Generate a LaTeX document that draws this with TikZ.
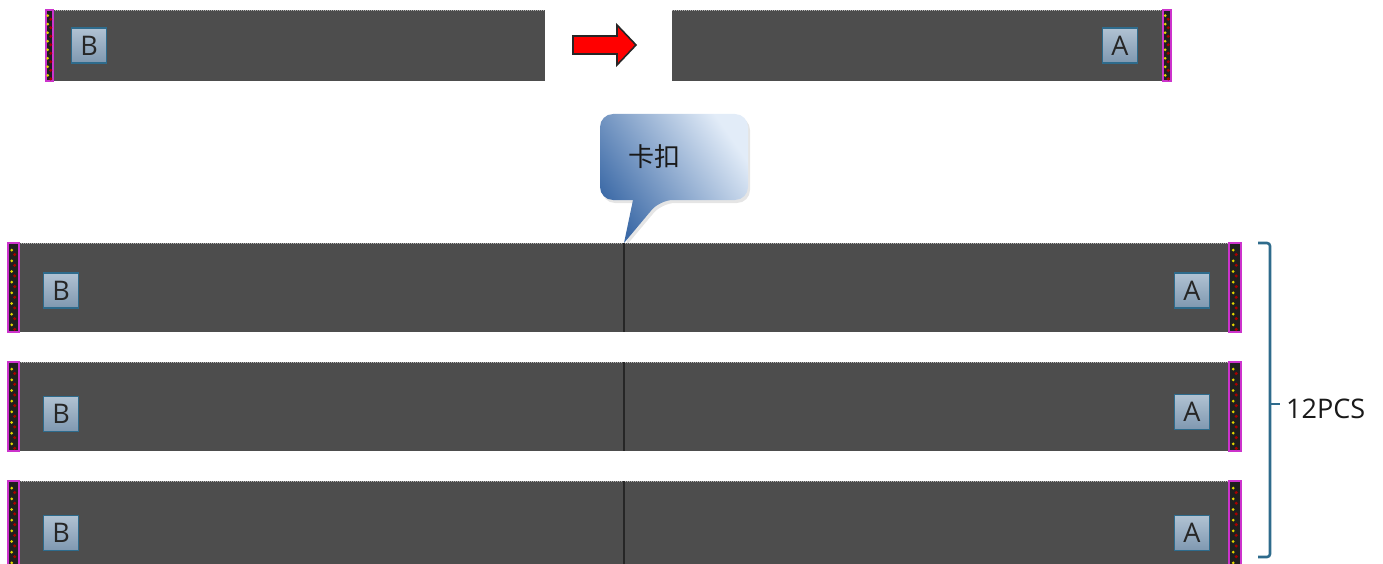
\documentclass[tikz,border=0pt]{standalone}
\usepackage{fontspec}
\setmainfont{Open Sans}
\newfontfamily\cjk{Noto Sans CJK SC}
\usetikzlibrary{shadows}
\definecolor{bar}{HTML}{4D4D4D}
\definecolor{labfill}{HTML}{9DB3C8}
\definecolor{labdark}{HTML}{7F98B0}
\definecolor{labedge}{HTML}{2E6B8C}
\definecolor{strip}{HTML}{CC33CC}
\definecolor{brk}{HTML}{2E6B8C}
\definecolor{calldark}{HTML}{3B69A6}
\definecolor{calllight}{HTML}{E2ECF8}
\tikzset{
  barbox/.style={fill=bar, draw=none, inner sep=0pt, outer sep=0pt},
  tagbox/.style={draw=labedge, line width=1.8pt, top color=labfill!80!white, bottom color=labdark,
    minimum width=35pt, minimum height=35pt, inner sep=0pt, font=\fontsize{27}{27}\selectfont, text=black!85},
  stripbox/.style={draw=strip, line width=1.2pt, fill=black!88, inner sep=0pt},
  redarrow/.style={draw=black!85, line width=1.6pt, fill=red, line join=miter},
}
\newcommand{\stripdots}[4]{% x1 y1 x2 y2
  \pgfmathsetmacro{\xm}{(#1+#3)/2}
  \foreach \t in {0.08,0.2,0.32,0.44,0.56,0.68,0.8,0.92}{
    \fill[yellow!75!olive] (\xm-1.8, {#2+(#4-#2)*\t}) circle (1.5);
    \fill[red!65!black] (\xm+1.2, {#2+(#4-#2)*(\t+0.05)}) circle (1.7);
  }
}
\begin{document}
\begin{tikzpicture}[x=1pt,y=-1pt]
\useasboundingbox (0,0) rectangle (1383,564);
% ---- top row ----
\fill[barbox] (46,10) rectangle (545,81);
\draw[black!30, dash pattern=on 1pt off 1pt] (53,10.5) -- (545,10.5);
\draw[stripbox] (46,10) rectangle (53,81);
\stripdots{46}{10}{53}{81}
\node[tagbox] (tb1) at (89,45.5) {B};
\draw[redarrow] (573,36) -- (617,36) -- (617,25) -- (636,45) -- (617,65) -- (617,54) -- (573,54) -- cycle;
\fill[barbox] (672,10) rectangle (1171,81);
\draw[black!30, dash pattern=on 1pt off 1pt] (672,10.5) -- (1163,10.5);
\draw[stripbox] (1163,10) rectangle (1171,81);
\stripdots{1163}{10}{1171}{81}
\node[tagbox] (ta1) at (1120,45.5) {A};
% ---- callout ----
\path[draw=none, fill=black!20, opacity=0.5, xshift=2pt, yshift=-3pt]
  [rounded corners=13pt] (600,114) -- (748,114) -- (748,200) -- (660,200)
  [sharp corners] -- (624,243) -- (633,200) [rounded corners=13pt] -- (600,200) -- cycle;
\shade[left color=calldark, right color=calllight, shading angle=125]
  [rounded corners=13pt] (600,114) -- (748,114) -- (748,200) -- (660,200)
  [sharp corners] -- (624,243) -- (633,200) [rounded corners=13pt] -- (600,200) -- cycle;
\node[font=\cjk\fontsize{26}{26}\selectfont, text=black!90] (callt) at (654,157) {卡扣};
% ---- three long rows ----
\foreach \yt/\yb/\n in {243/332/1, 362/451/2, 481/570/3}{
  \fill[barbox] (8,\yt) rectangle (1241,\yb);
  \draw[black!30, dash pattern=on 1pt off 1pt] (19,\yt+0.5) -- (1229,\yt+0.5);
  \draw[black!85, line width=1.8pt] (624,\yt) -- (624,\yb);
  \draw[stripbox] (8,\yt) rectangle (19,\yb);
  \stripdots{8}{\yt}{19}{\yb}
  \draw[stripbox] (1229,\yt) rectangle (1241,\yb);
  \stripdots{1229}{\yt}{1241}{\yb}
}
\node[tagbox] (b1) at (61,290.5) {B};
\node[tagbox] (a1) at (1192,290.5) {A};
\node[tagbox] (b2) at (61,414) {B};
\node[tagbox] (a2) at (1192,412) {A};
\node[tagbox] (b3) at (61,533) {B};
\node[tagbox] (a3) at (1192,533) {A};
% ---- bracket ----
\coordinate (bt) at (1258,243);
\coordinate (bb) at (1258,557);
\coordinate (bm) at (1280,404);
\draw[brk, line width=2.6pt, rounded corners=3pt] (bt) -- (1270,243) -- (1270,557) -- (bb);
\draw[brk, line width=2.6pt] (1270,404) -- (bm);
\node[anchor=west, font=\fontsize{27}{27}\selectfont, text=black!90, inner sep=0pt] (pcs) at (1286,409) {12PCS};
\end{tikzpicture}
\end{document}
